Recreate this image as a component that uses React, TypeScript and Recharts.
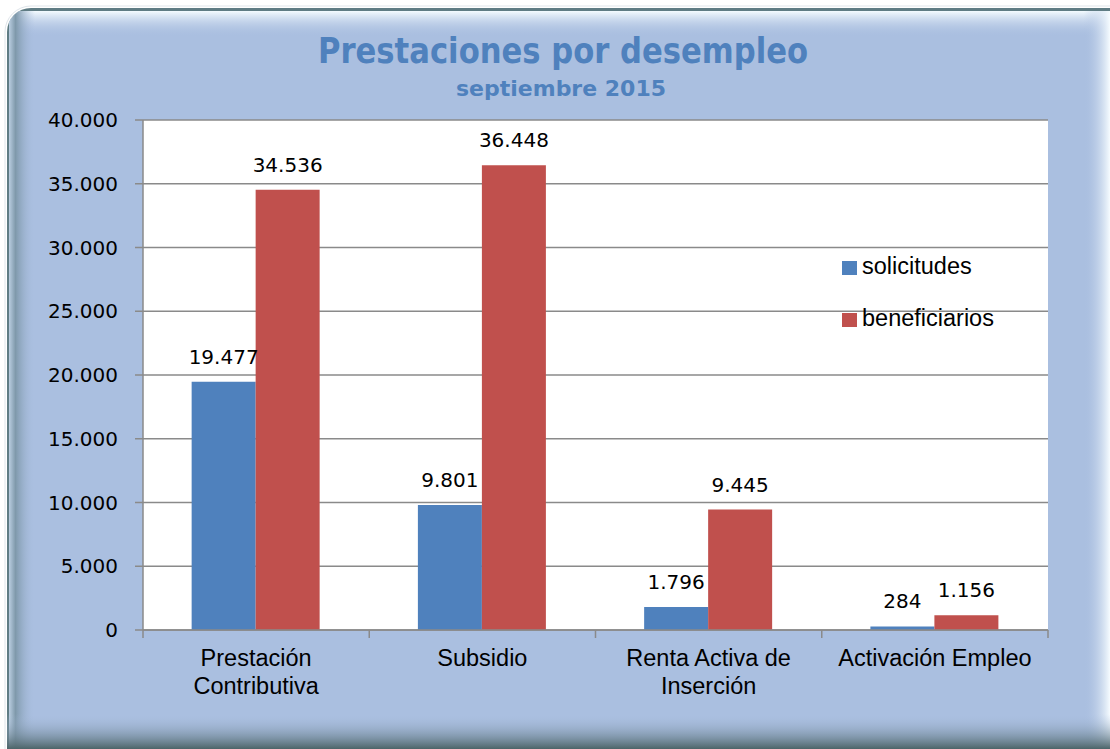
import React from 'react';
import { BarChart, Bar, XAxis, YAxis, CartesianGrid, Legend, LabelList } from 'recharts';

const categories = ['Prestación Contributiva', 'Subsidio', 'Renta Activa de Inserción', 'Activación Empleo'];
const categoryLines = [['Prestación', 'Contributiva'], ['Subsidio'], ['Renta Activa de', 'Inserción'], ['Activación Empleo']];
const solicitudes = [19477, 9801, 1796, 284];
const beneficiarios = [34536, 36448, 9445, 1156];
const yTicks = [0, 5000, 10000, 15000, 20000, 25000, 30000, 35000, 40000];
const seriesKeys = ['solicitudes', 'beneficiarios'];
const seriesColors = ['#4F81BD', '#C0504D'];
const title = 'Prestaciones por desempleo';
const subtitle = 'septiembre 2015';

const data = categories.map((c, i) => ({ name: c, solicitudes: solicitudes[i], beneficiarios: beneficiarios[i] }));

const fmt = (n: number) => String(n).replace(/\B(?=(\d{3})+(?!\d))/g, '.');

const W = 1110;
const H = 749;
const PLOT_LEFT = 143;
const PLOT_RIGHT = 1048;
const GRID = '#8a8a8a';
const NUM_FONT = '"DejaVu Sans", Verdana, sans-serif';
const CAT_FONT = '"Liberation Sans", Arial, sans-serif';

const XTick = (props: any) => {
  const { x, y, payload, index } = props;
  const half = payload && typeof payload.offset === 'number' && payload.offset > 0
    ? payload.offset
    : (PLOT_RIGHT - PLOT_LEFT) / categories.length / 2;
  const lines = categoryLines[index] ?? [String(payload?.value ?? '')];
  return (
    <g>
      <line x1={x - half} x2={x - half} y1={y} y2={y + 8} stroke={GRID} strokeWidth={1.5} />
      {index === categories.length - 1 && (
        <line x1={x + half} x2={x + half} y1={y} y2={y + 8} stroke={GRID} strokeWidth={1.5} />
      )}
      {lines.map((l, i) => (
        <text key={i} x={x} y={y + 36 + i * 27.5} textAnchor="middle" fontFamily={CAT_FONT} fontSize={23.5} fill="#000">
          {l}
        </text>
      ))}
    </g>
  );
};

const LegendContent = () => (
  <svg width={220} height={90} style={{ overflow: 'visible' }}>
    {seriesKeys.map((k, i) => (
      <g key={k}>
        <rect x={2} y={11 + i * 52} width={15} height={14} fill={seriesColors[i]} />
        <text x={22} y={24 + i * 52} fontFamily={CAT_FONT} fontSize={23.5} fill="#000">{k}</text>
      </g>
    ))}
  </svg>
);

const Frame = () => (
  <svg width={W} height={H} style={{ position: 'absolute', left: 0, top: 0 }}>
    <defs>
      <clipPath id="frameClip">
        <rect x={7} y={8} width={1300} height={900} rx={24} ry={24} />
      </clipPath>
      <linearGradient id="topG" x1="0" y1="0" x2="0" y2="1">
        <stop offset="0" stopColor="#f4fbff" stopOpacity={1} />
        <stop offset="1" stopColor="#AABFE0" stopOpacity={0} />
      </linearGradient>
      <linearGradient id="leftG" x1="0" y1="0" x2="1" y2="0">
        <stop offset="0" stopColor="#b9cde0" stopOpacity={1} />
        <stop offset="0.25" stopColor="#7f99ab" stopOpacity={1} />
        <stop offset="1" stopColor="#AABFE0" stopOpacity={0} />
      </linearGradient>
      <linearGradient id="rightG" x1="0" y1="0" x2="1" y2="0">
        <stop offset="0" stopColor="#AABFE0" stopOpacity={0} />
        <stop offset="1" stopColor="#f6fcff" stopOpacity={1} />
      </linearGradient>
      <linearGradient id="bottomG" x1="0" y1="0" x2="0" y2="1">
        <stop offset="0" stopColor="#AABFE0" stopOpacity={0} />
        <stop offset="1" stopColor="#4c6468" stopOpacity={1} />
      </linearGradient>
    </defs>
    <rect x={0} y={0} width={W} height={H} fill="#ffffff" />
    <rect x={5} y={6} width={1300} height={900} rx={26} ry={26} fill="none" stroke="#dfe5ea" strokeWidth={1} />
    <g clipPath="url(#frameClip)">
      <rect x={0} y={0} width={W} height={H} fill="#5f7c84" />
      <rect x={9} y={11} width={1300} height={900} rx={22} ry={22} fill="#AABFE0" />
      <rect x={9} y={11} width={W} height={26} fill="url(#topG)" />
      <rect x={9} y={11} width={26} height={H} fill="url(#leftG)" />
      <rect x={1084} y={11} width={26} height={H} fill="url(#rightG)" />
      <rect x={0} y={714} width={W} height={35} fill="url(#bottomG)" />
    </g>
    <text x={563} y={63} textAnchor="middle" fontFamily={NUM_FONT} fontWeight="bold" fontSize={35}
      fill="#4F81BD" textLength={490} lengthAdjust="spacingAndGlyphs">{title}</text>
    <text x={561} y={96} textAnchor="middle" fontFamily={NUM_FONT} fontWeight="bold" fontSize={21}
      fill="#4F81BD" textLength={210} lengthAdjust="spacingAndGlyphs">{subtitle}</text>
  </svg>
);

export default function App() {
  return (
    <div style={{ position: 'absolute', left: 0, top: 0, width: W, height: H }}>
      <Frame />
      <div style={{ position: 'absolute', left: 0, top: 0 }}>
        <BarChart
          width={W}
          height={H}
          data={data}
          margin={{ top: 120, right: W - PLOT_RIGHT, left: 0, bottom: 0 }}
          barCategoryGap="21.5%"
          barGap={0}
        >
          <CartesianGrid vertical={false} stroke={GRID} strokeWidth={1.5} fill="#ffffff" fillOpacity={1} />
          <XAxis
            dataKey="name"
            height={119}
            axisLine={{ stroke: GRID, strokeWidth: 1.5 }}
            tickLine={false}
            tickSize={0}
            tickMargin={0}
            interval={0}
            tick={<XTick />}
          />
          <YAxis
            width={PLOT_LEFT}
            domain={[0, 40000]}
            ticks={yTicks}
            interval={0}
            axisLine={{ stroke: GRID, strokeWidth: 1.5 }}
            tickLine={{ stroke: GRID, strokeWidth: 1.5 }}
            tickSize={8}
            tickMargin={17}
            tickFormatter={(v: number) => fmt(v)}
            tick={{ fill: '#000', fontFamily: NUM_FONT, fontSize: 20 }}
          />
          <Legend
            layout="vertical"
            align="center"
            verticalAlign="middle"
            wrapperStyle={{ left: 840, top: 250, width: 220, height: 90 }}
            content={<LegendContent />}
          />
          {seriesKeys.map((k, i) => (
            <Bar key={k} dataKey={k} fill={seriesColors[i]} isAnimationActive={false}>
              <LabelList
                dataKey={k}
                position="top"
                offset={18}
                formatter={(v: any) => fmt(Number(v))}
                style={{ fill: '#000', fontFamily: NUM_FONT, fontSize: 20 }}
              />
            </Bar>
          ))}
        </BarChart>
      </div>
    </div>
  );
}
